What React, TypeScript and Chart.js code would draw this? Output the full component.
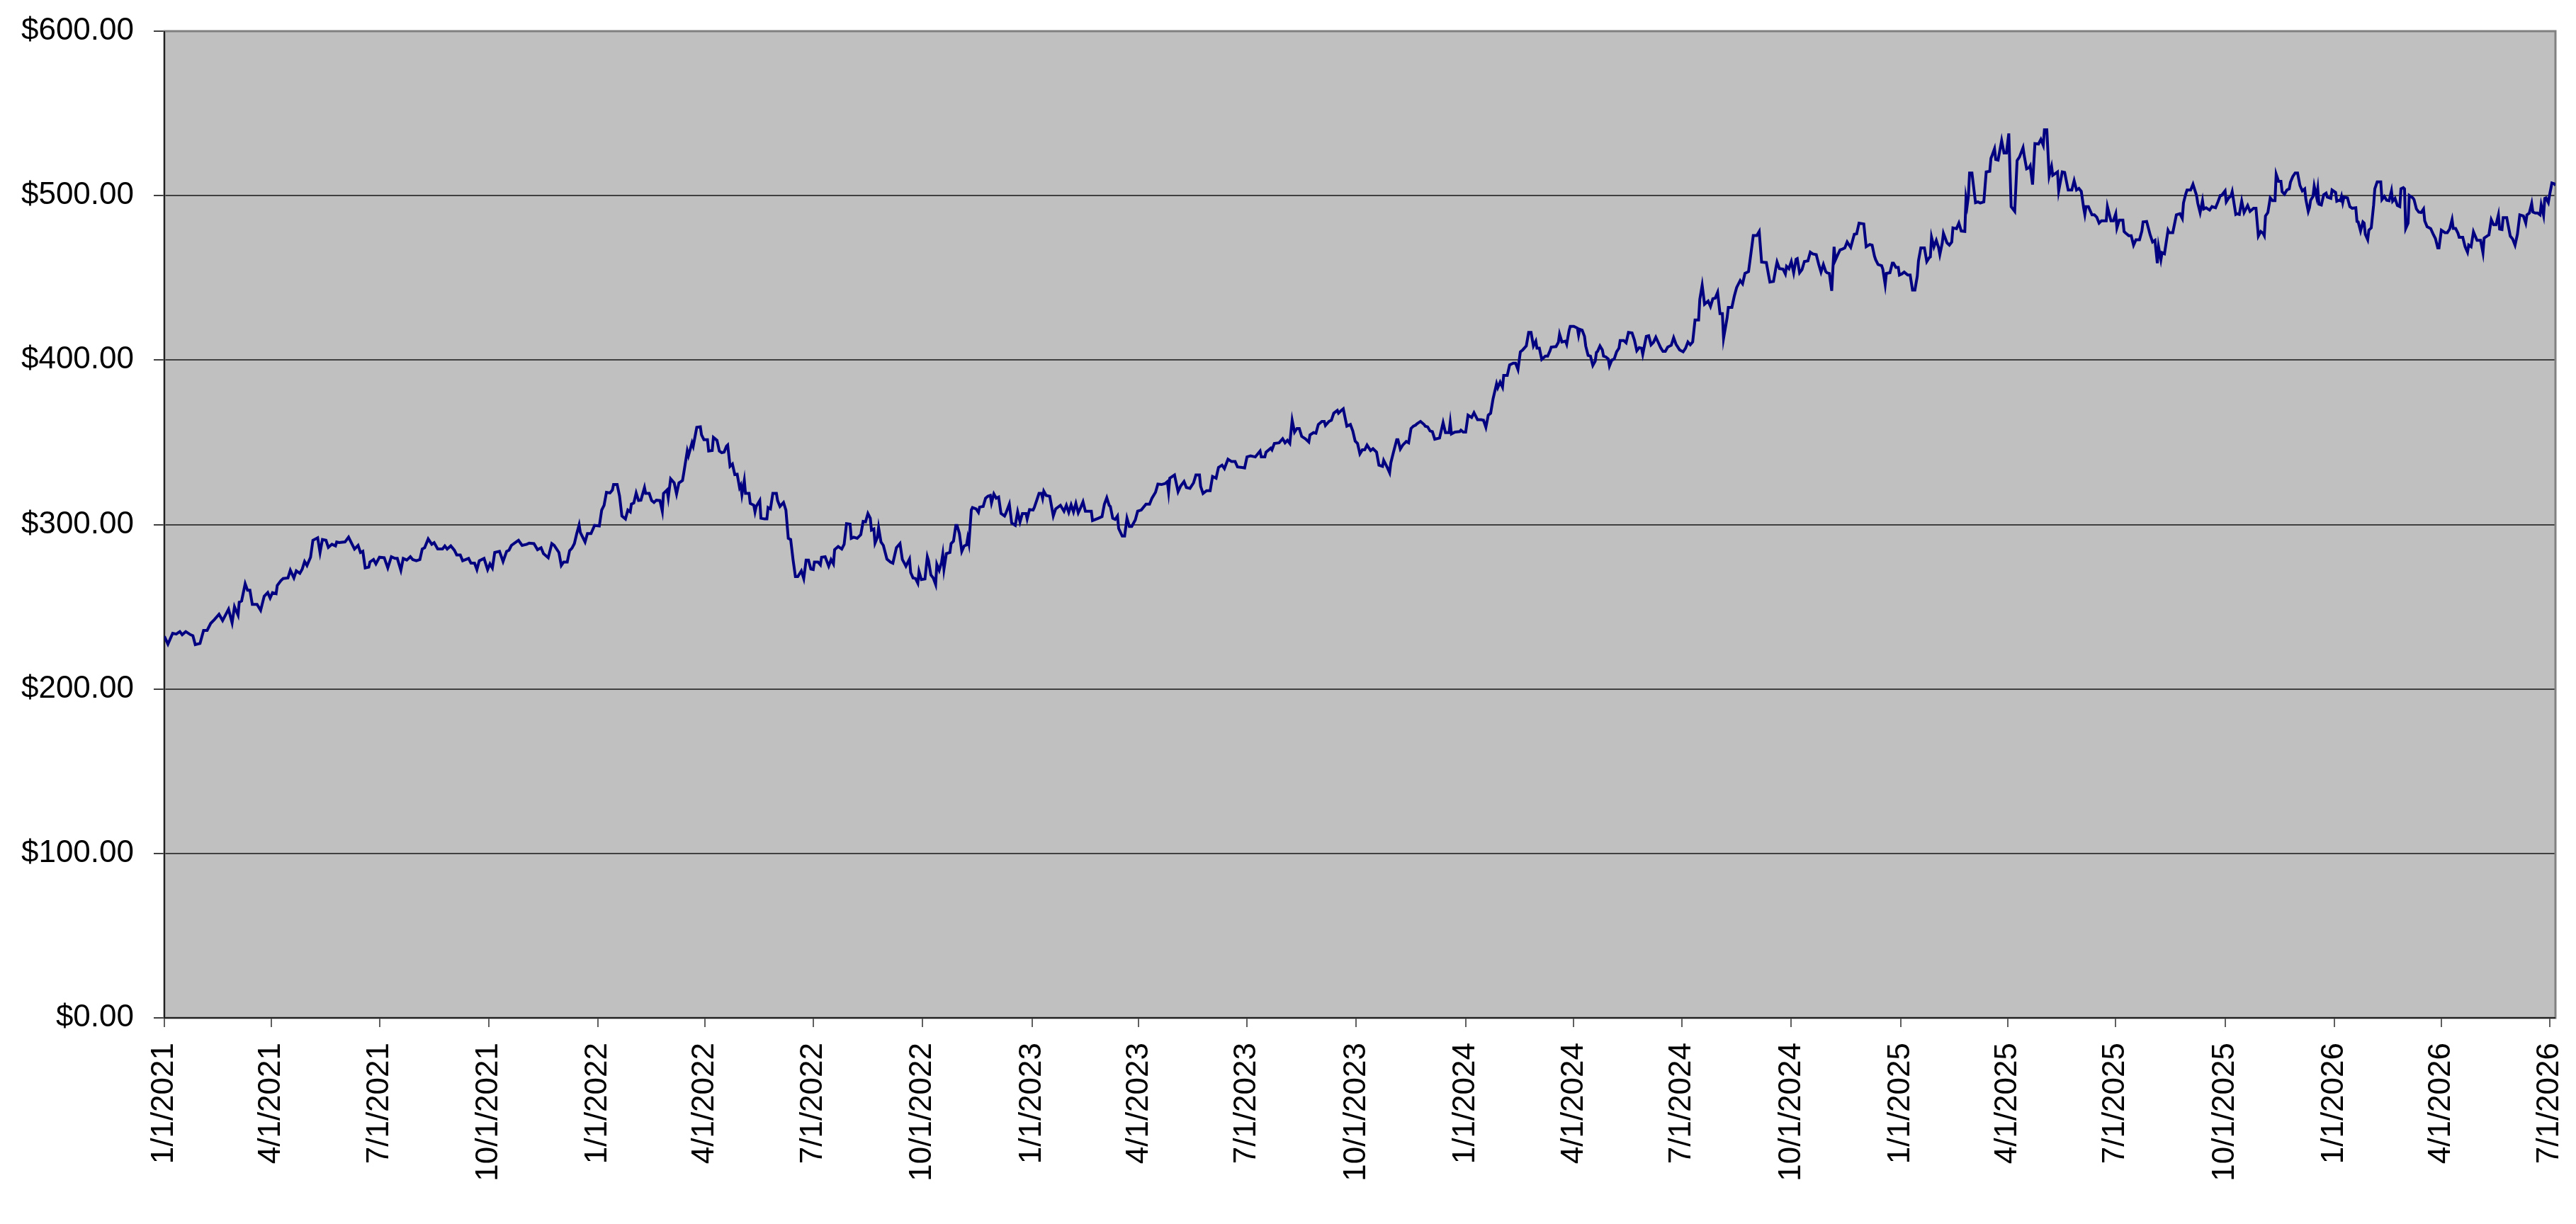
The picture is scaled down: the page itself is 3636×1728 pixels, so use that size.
import { useEffect, useRef } from 'react';
import { Chart, registerables } from 'chart.js';

Chart.register(...registerables);

// x = calendar days counted from 1/1/2021
const tradingDay = [
  0, 3, 7, 10, 13, 15, 18, 22, 24, 26,
  30, 33, 36, 39, 42, 46, 49, 54, 57, 59,
  62, 63, 65, 68, 70, 72, 74, 78, 81, 84,
  87, 89, 91, 94, 95, 98, 100, 104, 106, 109,
  111, 114, 116, 118, 120, 123, 125, 129, 131, 133,
  136, 138, 141, 144, 145, 147, 152, 155, 157, 160,
  163, 165, 167, 169, 172, 173, 176, 178, 181, 185,
  188, 191, 194, 196, 199, 201, 204, 207, 209, 212,
  215, 217, 219, 222, 225, 227, 230, 234, 236, 238,
  241, 244, 246, 249, 251, 256, 258, 261, 263, 265,
  269, 272, 274, 276, 278, 282, 285, 288, 290, 292,
  296, 298, 301, 305, 307, 311, 314, 317, 319, 323,
  326, 328, 332, 334, 336, 339, 341, 343, 345, 347,
  349, 350, 354, 356,
  359, 362, 366, 368, 370, 372, 375, 377, 378, 381,
  383, 385, 388, 390, 392, 393, 395, 397, 399, 401,
  404, 405, 408, 410, 412, 414, 417, 419, 420, 423,
  424, 426, 429, 431, 433, 436, 437, 440, 441, 444,
  445, 448, 451, 452, 454, 457, 458, 461, 462, 465,
  467, 469, 471, 473, 474, 476, 478, 480, 482, 484,
  485, 486, 488, 489, 492, 493, 496, 497, 498, 501,
  502, 505, 507, 508, 510, 512, 515, 516, 518, 521,
  523, 525, 527, 529, 531, 533, 536, 538, 540, 542,
  544, 546, 547, 550, 552, 553, 556, 559, 561, 563,
  564, 567, 570, 572, 574, 577, 578, 580, 583, 586,
  588, 590, 592, 594, 595, 597, 598, 600, 601, 603,
  605, 608, 611, 613, 616, 619, 621, 623, 624, 627,
  628, 630, 632, 634, 635, 637, 640, 642, 643, 645,
  647, 649, 650, 652, 654, 655, 656, 658, 661, 662,
  664, 666, 667, 669, 671, 673, 675, 676, 677, 679,
  680, 683, 685, 686, 689, 691, 693, 695, 696, 698,
  700, 702, 704, 707, 708,
  711, 713, 716, 718, 720, 722, 725, 726, 728, 731,
  732, 734, 736, 738, 739, 740, 742, 745, 748, 750,
  754, 757, 759, 761, 763, 765, 767, 769, 771, 773,
  775, 780, 781, 786, 789, 791, 793, 795, 796, 798,
  800, 802, 803, 806, 808, 810, 812, 814, 817, 819,
  822, 826, 829, 831, 834, 836, 839, 842, 844, 845,
  846, 850, 853, 855, 858, 860, 863, 866, 868, 871,
  872, 874, 877, 880, 882, 885, 887, 890, 892, 895,
  898, 901, 903, 907, 909, 911, 914, 918, 922, 923,
  926, 927, 931, 932, 934, 938, 941, 943, 945, 947,
  949, 951, 953, 955, 957, 960, 963, 964, 967, 969,
  971, 974, 976, 977, 980, 982, 984, 987, 988, 990,
  992, 995, 998, 1000, 1002, 1004, 1006, 1008, 1010, 1012,
  1015, 1017, 1020, 1022, 1025, 1026, 1029, 1031, 1032, 1034,
  1037, 1038, 1040, 1042, 1045, 1047, 1049, 1051, 1053, 1054,
  1057, 1060,
  1061, 1063, 1065, 1067, 1069, 1073, 1076, 1078, 1081, 1082,
  1083, 1086, 1090, 1091, 1093, 1095, 1097, 1100, 1102, 1105,
  1108, 1110, 1112, 1114, 1116, 1118, 1121, 1122, 1124, 1126,
  1127, 1130, 1132, 1135, 1137, 1139, 1141, 1143, 1146, 1148,
  1150, 1152, 1154, 1155, 1157, 1159, 1162, 1164, 1166, 1167,
  1171, 1173, 1174, 1176, 1179, 1180, 1182, 1183, 1186, 1189,
  1190, 1191, 1193, 1195, 1196, 1198, 1200, 1202, 1204, 1205,
  1206, 1208, 1210, 1211, 1213, 1215, 1216, 1218, 1220, 1222,
  1224, 1225, 1228, 1230, 1232, 1235, 1237, 1239, 1241, 1243,
  1244, 1246, 1247, 1249, 1251, 1253, 1255, 1257, 1259, 1261,
  1263, 1265, 1268, 1270, 1272, 1275, 1278, 1280, 1282, 1284,
  1286, 1288, 1291, 1292, 1294, 1295, 1296, 1299, 1301, 1303,
  1305, 1307, 1309, 1311, 1312, 1315, 1316, 1319, 1321, 1323,
  1326, 1328, 1330, 1333, 1335, 1337, 1340, 1342, 1344, 1348,
  1350, 1351, 1354, 1356, 1357, 1359, 1362, 1364, 1365, 1367,
  1369, 1371, 1373, 1374, 1376, 1378, 1380, 1383, 1385, 1387,
  1390, 1392, 1394, 1396, 1398, 1399, 1401, 1403, 1405, 1406,
  1408, 1410,
  1412, 1414, 1416, 1419, 1422, 1424, 1426, 1430, 1432, 1435,
  1437, 1439, 1440, 1442, 1445, 1446, 1448, 1449, 1452, 1454,
  1455, 1457, 1459, 1460, 1462, 1464, 1467, 1469, 1471, 1473,
  1475, 1476, 1478, 1481, 1483, 1485, 1486, 1487, 1489, 1491,
  1493, 1494, 1496, 1497, 1500, 1502, 1504, 1505, 1508, 1510,
  1512, 1515, 1516, 1517, 1518, 1519, 1521, 1524, 1526, 1528,
  1531, 1533, 1536, 1537, 1538, 1540, 1541, 1543, 1546, 1548,
  1550, 1552, 1554, 1557, 1559, 1561, 1564, 1565, 1567, 1569,
  1570, 1572, 1574, 1577, 1579, 1581, 1582, 1584, 1586, 1588,
  1589, 1591, 1593, 1594, 1597, 1599, 1602, 1605, 1607, 1609,
  1611, 1613, 1615, 1616, 1617, 1619, 1622, 1624, 1626, 1628,
  1630, 1634, 1635, 1638, 1640, 1642, 1643, 1645, 1648, 1649,
  1650, 1653, 1655, 1657, 1659, 1662, 1664, 1665, 1668, 1671,
  1673, 1675, 1677, 1678, 1680, 1681, 1683, 1686, 1687, 1690,
  1693, 1696, 1698, 1699, 1701, 1702, 1705, 1707, 1710, 1711,
  1713, 1715, 1716, 1718, 1721, 1723, 1726, 1728, 1730, 1731,
  1734, 1735, 1737, 1739, 1740, 1743, 1744, 1746, 1748, 1750,
  1752, 1753, 1755, 1758, 1760, 1762,
  1764, 1766, 1767, 1768, 1770, 1772, 1774, 1776, 1777, 1779,
  1781, 1782, 1784, 1786, 1788, 1789, 1791, 1793, 1795, 1797,
  1799, 1801, 1802, 1804, 1805, 1806, 1808, 1809, 1811, 1812,
  1813, 1815, 1817, 1819, 1820, 1823, 1824, 1827, 1828, 1830,
  1831, 1832, 1833, 1834, 1837, 1839, 1841, 1844, 1845, 1846,
  1848, 1850, 1851, 1852, 1854, 1855, 1857, 1859, 1860, 1862,
  1865, 1866, 1868, 1870, 1872, 1874, 1875, 1877, 1879, 1881,
  1882, 1884, 1885, 1886, 1888, 1889, 1892, 1893, 1895, 1897,
  1899, 1901, 1902, 1904, 1907, 1909, 1911, 1913, 1914, 1916,
  1919, 1921, 1923, 1925, 1926, 1928, 1930, 1931, 1934, 1936,
  1938, 1939, 1941, 1943, 1946, 1949, 1951, 1952, 1955, 1956,
  1958, 1960, 1962, 1964, 1965, 1967, 1968, 1971, 1972, 1974,
  1976, 1978, 1980, 1982, 1985, 1987, 1988, 1990, 1992, 1993,
  1995, 1997, 1999, 2000, 2002, 2003, 2004, 2006, 2007, 2009,
  2011, 2012,
];

const closePrice = [
  232.0, 227.3, 233.9, 233.4, 234.9, 233.0, 234.9, 233.0, 232.4, 227.0,
  227.7, 235.6, 235.6, 239.9, 242.1, 245.4, 241.6, 248.5, 240.2, 250.0,
  244.9, 252.8, 253.5, 264.0, 260.0, 260.0, 251.4, 251.4, 247.8, 256.4,
  258.6, 255.3, 258.6, 257.9, 262.9, 265.8, 267.2, 267.5, 272.2, 267.5,
  271.8, 270.3, 272.9, 277.5, 275.1, 280.1, 290.4, 291.9, 283.0, 290.9,
  290.4, 286.1, 288.0, 287.0, 289.4, 289.0, 289.4, 292.3, 289.4, 285.1,
  287.3, 283.0, 283.7, 273.6, 274.1, 277.2, 278.7, 276.1, 280.1, 279.8,
  273.6, 280.4, 279.4, 279.4, 272.2, 279.4, 278.4, 280.4, 278.7, 278.0,
  278.7, 285.1, 285.9, 291.3, 288.0, 289.0, 285.1, 285.1, 287.0, 285.1,
  287.0, 284.4, 281.5, 281.5, 278.0, 279.4, 276.5, 276.5, 272.6, 278.0,
  279.4, 272.6, 276.1, 273.6, 283.0, 283.7, 277.5, 283.7, 284.4, 287.3,
  289.4, 290.4, 287.3, 288.0, 288.7, 288.4, 284.7, 285.9, 282.3, 279.8,
  288.4, 287.3, 283.0, 275.1, 277.2, 277.2, 284.1, 285.6, 288.4, 294.5,
  299.8, 295.2, 289.4, 294.5,
  294.5, 299.5, 299.1, 308.8, 311.7, 319.6, 319.2, 321.0, 324.3, 324.3,
  317.4, 305.2, 303.4, 308.8, 307.7, 312.4, 313.1, 319.2, 314.6, 314.8,
  322.5, 318.9, 318.9, 314.6, 313.4, 314.8, 314.6, 308.1, 318.9, 321.0,
  316.3, 327.8, 325.3, 318.6, 325.3, 326.8, 331.1, 344.7, 341.9, 349.7,
  347.6, 359.1, 359.4, 354.5, 351.6, 351.6, 344.7, 345.0, 353.0, 351.2,
  344.7, 343.7, 344.0, 347.6, 348.3, 335.4, 336.8, 330.4, 330.6, 322.5,
  323.9, 318.2, 326.8, 318.9, 318.9, 312.8, 311.7, 307.7, 311.0, 314.6,
  303.8, 303.4, 303.4, 310.3, 309.5, 318.9, 318.9, 314.6, 311.0, 313.4,
  308.8, 291.6, 290.9, 278.7, 268.3, 268.3, 271.8, 267.2, 278.4, 278.4,
  272.9, 272.6, 277.2, 277.2, 275.5, 280.1, 280.4, 274.7, 278.7, 276.1,
  284.7, 286.6, 285.1, 288.0, 300.5, 300.2, 291.6, 292.3, 291.6, 293.8,
  301.9, 301.6, 306.7, 303.8, 296.6, 297.3, 288.7, 292.3, 298.1, 289.4,
  287.3, 279.0, 277.2, 276.5, 285.9, 288.4, 278.7, 276.1, 274.7, 279.0,
  270.8, 267.5, 267.2, 264.3, 271.5, 266.5, 266.9, 280.4, 278.0, 269.3,
  267.5, 263.6, 275.8, 272.2, 277.2, 281.8, 272.9, 282.3, 283.0, 288.4,
  289.9, 299.5, 299.5, 294.5, 283.7, 287.0, 287.6, 291.9, 288.4, 308.8,
  310.3, 309.5, 307.4, 310.6, 311.0, 316.0, 317.2, 317.7, 313.1, 318.6,
  316.0, 316.7, 306.7, 305.2, 306.7,
  312.4, 300.9, 299.5, 307.7, 301.6, 306.7, 306.7, 303.4, 309.1, 308.8,
  310.3, 314.6, 318.9, 318.9, 316.0, 320.3, 317.7, 317.2, 305.2, 309.5,
  311.7, 308.1, 311.7, 307.4, 312.0, 307.7, 312.8, 307.1, 310.3, 313.8,
  308.1, 308.1, 302.4, 303.8, 304.8, 312.4, 316.3, 311.7, 311.0, 303.8,
  303.1, 305.2, 297.6, 293.0, 293.0, 303.8, 298.8, 298.8, 302.8, 308.1,
  308.8, 312.4, 312.4, 316.0, 319.6, 324.6, 324.3, 324.9, 326.1, 320.0,
  328.2, 330.1, 320.0, 323.2, 326.1, 322.5, 322.0, 325.3, 330.1, 330.1,
  323.2, 318.9, 320.6, 320.6, 329.2, 328.2, 334.7, 336.1, 334.0, 339.7,
  338.3, 338.3, 335.0, 334.7, 334.4, 341.1, 341.8, 341.1, 344.7, 341.1,
  341.1, 344.0, 346.4, 345.4, 349.3, 349.7, 352.2, 349.7, 351.2, 349.3,
  363.4, 356.2, 358.4, 358.4, 353.6, 352.2, 350.2, 354.5, 355.9, 355.5,
  360.8, 362.7, 362.7, 360.2, 362.7, 363.4, 367.7, 369.4, 367.7, 369.1,
  370.3, 359.8, 360.8, 356.9, 350.7, 349.3, 343.0, 345.4, 345.4, 348.3,
  345.0, 346.1, 344.0, 336.1, 335.4, 339.0, 334.7, 331.5, 337.5, 343.3,
  351.6, 351.6, 345.9, 348.3, 350.5, 349.7, 358.4, 359.8, 360.5, 361.2,
  362.7, 360.8,
  359.8, 359.4, 356.9, 356.5, 351.9, 352.6, 361.9, 355.9, 355.9, 361.9,
  355.1, 356.2, 356.5, 357.4, 356.2, 356.2, 366.5, 365.1, 368.0, 363.7,
  363.7, 363.4, 359.1, 366.5, 367.7, 376.3, 385.6, 383.2, 386.6, 383.5,
  390.7, 390.7, 397.1, 398.1, 398.1, 394.3, 405.0, 406.2, 408.6, 416.8,
  416.8, 408.6, 411.5, 407.2, 407.2, 400.4, 402.4, 402.4, 405.7, 407.9,
  408.2, 410.8, 415.8, 411.0, 411.5, 409.6, 417.9, 420.5, 420.5, 419.4,
  415.1, 418.7, 418.2, 414.4, 408.6, 402.9, 402.4, 396.7, 399.3, 404.7,
  405.3, 408.6, 406.2, 402.4, 401.9, 400.7, 396.4, 400.0, 400.7, 405.0,
  407.2, 411.9, 411.9, 410.5, 416.8, 416.5, 412.2, 405.7, 407.6, 407.2,
  403.6, 410.8, 414.4, 414.8, 409.3, 410.8, 413.9, 410.8, 407.6, 405.3,
  405.3, 407.9, 409.0, 413.6, 409.6, 406.2, 405.0, 407.2, 411.0, 409.3,
  411.0, 424.4, 424.4, 436.9, 445.5, 439.8, 434.0, 435.9, 432.6, 437.3,
  437.7, 441.2, 428.3, 428.3, 413.3, 425.8, 432.0, 432.0, 438.8, 444.1,
  448.4, 446.4, 452.7, 453.8, 464.6, 475.7, 475.7, 478.2, 459.6, 459.3,
  451.2, 447.4, 447.8, 456.0, 459.6, 455.6, 455.3, 452.4, 457.0, 455.6,
  459.9, 453.1, 461.3, 461.7, 453.1, 455.0, 459.9, 460.3, 465.6, 464.6,
  464.1, 458.4, 453.5, 458.1, 453.8, 453.1, 452.7, 442.1, 468.9, 460.7,
  463.9, 467.0,
  467.5, 468.2, 471.8, 468.5, 476.5, 476.8, 483.3, 482.8, 468.9, 470.3,
  469.9, 463.2, 461.0, 458.1, 457.4, 455.3, 445.9, 452.7, 453.1, 458.9,
  458.9, 456.4, 456.4, 451.7, 452.4, 453.5, 451.7, 451.7, 442.6, 442.6,
  451.0, 460.3, 468.2, 468.2, 459.9, 462.2, 462.7, 474.7, 468.9, 472.8,
  468.2, 464.2, 471.1, 477.1, 471.3, 469.9, 471.8, 480.4, 479.9, 483.3,
  478.5, 478.2, 498.3, 494.0, 499.5, 513.8, 513.8, 495.7, 496.2, 495.5,
  496.2, 514.4, 514.8, 522.7, 524.5, 528.5, 522.0, 521.6, 533.5, 525.9,
  525.9, 537.8, 493.3, 490.4, 521.3, 523.5, 529.2, 524.2, 516.3, 517.0,
  518.2, 506.7, 531.6, 531.4, 534.2, 530.6, 540.0, 540.0, 512.0, 517.7,
  512.4, 513.4, 514.4, 502.9, 514.4, 514.1, 503.4, 503.4, 509.1, 503.4,
  504.4, 502.6, 492.6, 488.6, 493.3, 493.3, 488.3, 488.3, 486.9, 483.3,
  484.7, 484.7, 493.3, 484.7, 484.7, 489.0, 480.4, 485.1, 485.1, 478.2,
  477.5, 475.6, 475.6, 469.9, 473.2, 473.2, 478.5, 484.0, 484.3, 476.1,
  471.8, 472.8, 458.9, 468.9, 461.0, 465.3, 464.6, 478.9, 477.5, 477.5,
  488.3, 489.0, 486.1, 495.5, 501.2, 503.4, 503.4, 506.9, 500.1, 495.5,
  489.7, 496.9, 491.9, 492.6, 491.2, 493.3, 492.6, 496.2, 500.1, 500.1,
  502.9, 496.2, 498.6, 499.8, 502.4, 488.6, 489.0, 488.6, 496.6, 489.7,
  492.6, 494.0, 490.4, 492.3, 492.3, 475.4,
  478.2, 477.1, 475.7, 487.6, 489.7, 498.6, 496.9, 496.9, 513.0, 508.7,
  508.7, 502.4, 500.9, 503.4, 504.1, 508.1, 511.6, 513.8, 513.8, 506.2,
  502.9, 504.1, 497.6, 490.4, 492.6, 497.2, 499.5, 505.8, 499.1, 504.1,
  494.8, 494.3, 500.5, 501.5, 499.1, 498.3, 503.4, 501.9, 496.6, 497.2,
  496.9, 499.5, 495.8, 499.1, 498.6, 493.3, 492.3, 492.6, 484.3, 484.0,
  478.5, 484.0, 483.3, 476.5, 473.2, 479.0, 480.4, 494.3, 504.1, 508.4,
  508.4, 497.6, 499.5, 497.2, 496.9, 502.9, 496.6, 498.3, 494.0, 493.3,
  504.1, 504.8, 504.1, 480.0, 483.3, 500.1, 498.6, 497.6, 491.9, 490.0,
  489.7, 491.9, 484.7, 481.1, 480.0, 476.8, 473.9, 468.2, 468.2, 479.0,
  477.5, 477.5, 479.7, 485.4, 480.0, 480.0, 477.1, 474.7, 474.7, 468.9,
  465.6, 469.9, 468.9, 478.0, 472.8, 472.8, 465.3, 474.2, 475.7, 476.1,
  485.4, 482.3, 482.3, 488.3, 479.7, 479.4, 486.6, 486.6, 482.8, 475.4,
  473.6, 469.9, 476.5, 488.3, 487.6, 483.3, 488.3, 489.4, 495.2, 490.0,
  489.4, 489.4, 488.3, 494.3, 488.0, 498.3, 498.6, 495.8, 500.1, 507.7,
  507.2, 506.2,
];

const dateTicks = [
  '1/1/2021', '4/1/2021', '7/1/2021', '10/1/2021',
  '1/1/2022', '4/1/2022', '7/1/2022', '10/1/2022',
  '1/1/2023', '4/1/2023', '7/1/2023', '10/1/2023',
  '1/1/2024', '4/1/2024', '7/1/2024', '10/1/2024',
  '1/1/2025', '4/1/2025', '7/1/2025', '10/1/2025',
  '1/1/2026', '4/1/2026', '7/1/2026',
];

const LAST_DAY = 2012;
const FONT = { family: '"Liberation Sans", Arial, sans-serif', size: 44 };

const START = Date.UTC(2021, 0, 1);
function dayOf(label: string) {
  const [m, d, y] = label.split('/').map(Number);
  return Math.round((Date.UTC(y, m - 1, d) - START) / 86400000);
}
const tickDays = dateTicks.map(dayOf);

const plotFrame = {
  id: 'plotFrame',
  beforeDraw(chart: any) {
    const { ctx, chartArea: a } = chart;
    ctx.save();
    ctx.fillStyle = '#c0c0c0';
    ctx.fillRect(a.left, a.top, a.right - a.left, a.bottom - a.top);
    ctx.restore();
  },
  beforeDatasetsDraw(chart: any) {
    const { ctx, chartArea: a } = chart;
    ctx.save();
    ctx.strokeStyle = '#808080';
    ctx.lineWidth = 3;
    ctx.strokeRect(a.left, a.top, a.right - a.left, a.bottom - a.top);
    ctx.strokeStyle = '#202020';
    ctx.lineWidth = 2;
    ctx.beginPath();
    ctx.moveTo(a.left, a.top);
    ctx.lineTo(a.left, a.bottom);
    ctx.lineTo(a.right, a.bottom);
    ctx.stroke();
    ctx.restore();
  },
};

export default function App() {
  const canvasRef = useRef<HTMLCanvasElement>(null);
  const chartRef = useRef<Chart | null>(null);

  useEffect(() => {
    if (!canvasRef.current) return;
    document.body.style.margin = '0';

    const existing = Chart.getChart(canvasRef.current);
    if (existing) existing.destroy();
    chartRef.current?.destroy();

    chartRef.current = new Chart(canvasRef.current, {
      type: 'line',
      data: {
        datasets: [{
          data: tradingDay.map((d, i) => ({ x: d, y: closePrice[i] })),
          borderColor: '#000080',
          borderWidth: 4,
          pointRadius: 0,
          tension: 0,
          fill: false,
        }],
      },
      plugins: [plotFrame],
      options: {
        animation: false,
        responsive: true,
        maintainAspectRatio: false,
        devicePixelRatio: 1,
        parsing: false,
        layout: { padding: { top: 44, right: 29, left: 0, bottom: 0 } },
        plugins: {
          legend: { display: false },
          tooltip: { enabled: false },
        },
        scales: {
          x: {
            type: 'linear',
            min: 0,
            max: LAST_DAY,
            afterBuildTicks: (scale: any) => {
              scale.ticks = tickDays.map(v => ({ value: v }));
            },
            afterFit: (scale: any) => {
              scale.height = 291;
              scale.paddingLeft = 0;
              scale.paddingRight = 0;
            },
            border: { display: false },
            grid: {
              drawOnChartArea: false,
              drawTicks: true,
              tickLength: 13,
              color: '#606060',
              lineWidth: 2,
            },
            ticks: {
              autoSkip: false,
              minRotation: 90,
              maxRotation: 90,
              padding: 22,
              color: '#000',
              font: FONT,
              callback: (v: any) => dateTicks[tickDays.indexOf(Number(v))] ?? '',
            },
          },
          y: {
            min: 0,
            max: 600,
            afterFit: (scale: any) => {
              scale.width = 232;
              scale.paddingTop = 0;
              scale.paddingBottom = 0;
            },
            border: { display: false },
            grid: {
              color: '#404040',
              lineWidth: 2,
              tickLength: 15,
            },
            ticks: {
              stepSize: 100,
              padding: 28,
              color: '#000',
              font: FONT,
              callback: (v: any) => '$' + Number(v).toFixed(2),
            },
          },
        },
      },
    });

    return () => { chartRef.current?.destroy(); chartRef.current = null; };
  }, []);

  return (
    <div style={{ width: 3636, height: 1728, position: 'relative' }}>
      <canvas ref={canvasRef} />
    </div>
  );
}
